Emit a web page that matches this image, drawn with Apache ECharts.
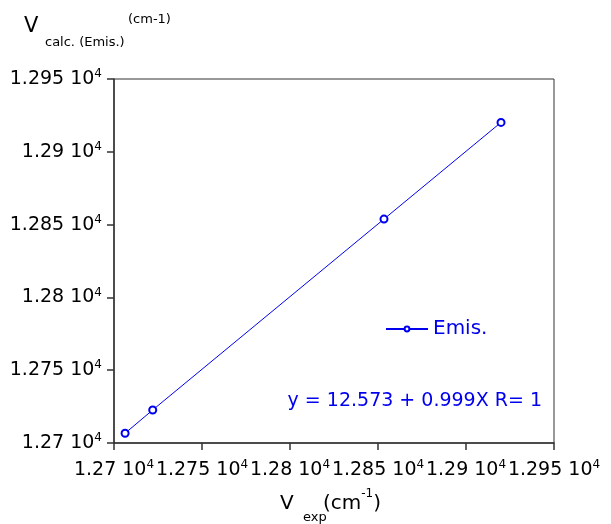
<!DOCTYPE html>
<html>
<head>
<meta charset="utf-8">
<script src="https://cdn.jsdelivr.net/npm/echarts@6/dist/echarts.min.js"></script>
<style>
  html, body { margin: 0; padding: 0; background: #fff; }
  #chart { width: 611px; height: 524px; }
</style>
</head>
<body>
<div id="chart"></div>
<script>
// data
const seriesName = "Emis.";
const vExp = [12706.3, 12722.0, 12853.4, 12919.9];
const vCalc = [12706.7, 12722.7, 12853.8, 12920.2];
const axisMin = 12700;
const axisMax = 12950;
const axisStep = 50;
const fitText = "y = 12.573 + 0.999X R= 1";

const FONT = "DejaVu Sans";
const BLUE = "#0000ee";
const AXIS = "#333";

// "1.275 10^4" style tick labels
const tickLabel = (v) => {
    const m = String(+(v / 1e4).toFixed(4));
    return "{m|" + m + " 10}{s|4}";
};
const labelRich = {
    m: { fontFamily: FONT, fontSize: 19, color: "#000", lineHeight: 22 },
    s: { fontFamily: FONT, fontSize: 12, color: "#000", verticalAlign: "top", lineHeight: 22 }
};

const chart = echarts.init(document.getElementById("chart"));

const options = {
    animation: false,
    grid: {
        left: 114,
        top: 79,
        right: 57,
        bottom: 81,
        show: true,
        borderColor: AXIS,
        borderWidth: 1
    },
    legend: {
        left: 385,
        top: 319,
        padding: 0,
        itemWidth: 42,
        itemHeight: 6,
        data: [seriesName],
        textStyle: { fontFamily: FONT, fontSize: 20, color: BLUE }
    },
    xAxis: {
        type: "value",
        min: axisMin,
        max: axisMax,
        interval: axisStep,
        splitLine: { show: false },
        axisLine: { lineStyle: { color: AXIS, width: 1.5 } },
        axisTick: { length: 7, lineStyle: { color: AXIS, width: 1.5 } },
        axisLabel: {
            margin: 16,
            formatter: tickLabel,
            rich: labelRich,
            showMinLabel: true,
            showMaxLabel: true,
            hideOverlap: false
        }
    },
    yAxis: {
        type: "value",
        min: axisMin,
        max: axisMax,
        interval: axisStep,
        splitLine: { show: false },
        axisLine: { lineStyle: { color: AXIS, width: 1.5 } },
        axisTick: { length: 7, lineStyle: { color: AXIS, width: 1.5 } },
        axisLabel: {
            margin: 12,
            formatter: tickLabel,
            rich: labelRich,
            showMinLabel: true,
            showMaxLabel: true,
            hideOverlap: false
        }
    },
    series: [
        {
            name: seriesName,
            type: "line",
            data: vExp.map((x, i) => [x, vCalc[i]]),
            symbol: "emptyCircle",
            symbolSize: 7,
            lineStyle: { color: BLUE, width: 1 },
            itemStyle: { color: BLUE, borderWidth: 1.2 }
        }
    ],
    graphic: [
        // y axis title
        { type: "text", left: 24, top: 16, style: { text: "V", fontFamily: FONT, fontSize: 21, fill: "#000" } },
        { type: "text", left: 45, top: 36, style: { text: "calc. (Emis.)", fontFamily: FONT, fontSize: 13, fill: "#000" } },
        { type: "text", left: 128, top: 13, style: { text: "(cm-1)", fontFamily: FONT, fontSize: 13, fill: "#000" } },
        // x axis title
        { type: "text", left: 280, top: 494, style: { text: "V", fontFamily: FONT, fontSize: 20, fill: "#000" } },
        { type: "text", left: 303, top: 511, style: { text: "exp", fontFamily: FONT, fontSize: 13, fill: "#000" } },
        {
            type: "text", left: 323, top: 488,
            style: {
                text: "{a|(cm}{s|-1}{a|)}",
                rich: {
                    a: { fontFamily: FONT, fontSize: 20, fill: "#000", lineHeight: 26, verticalAlign: "bottom" },
                    s: { fontFamily: FONT, fontSize: 12, fill: "#000", lineHeight: 26, verticalAlign: "top" }
                }
            }
        },
        // fit equation
        { type: "text", right: 69, top: 392, style: { text: fitText, fontFamily: FONT, fontSize: 19, fill: BLUE } }
    ]
};

chart.setOption(options);
</script>
</body>
</html>
